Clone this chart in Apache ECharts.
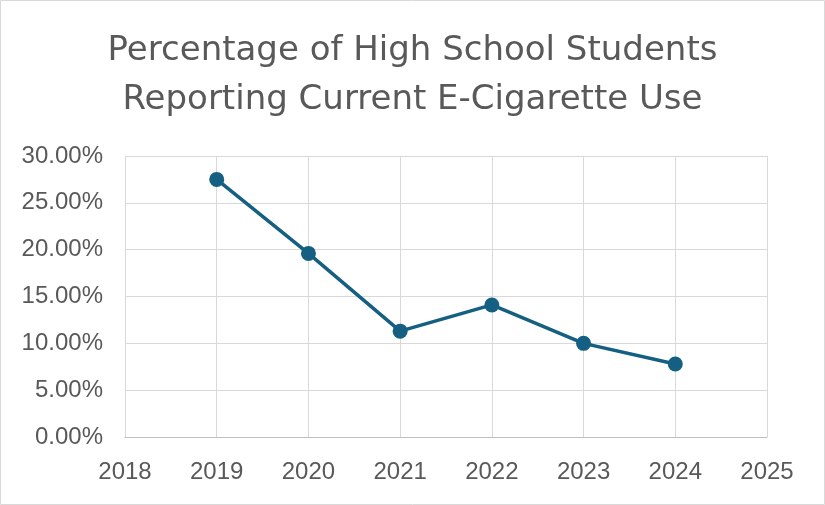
<!DOCTYPE html>
<html>
<head>
<meta charset="utf-8">
<script src="https://cdn.jsdelivr.net/npm/echarts@6/dist/echarts.min.js"></script>
<style>
  html, body { margin: 0; padding: 0; background: #fff; }
  #chart { width: 825px; height: 505px; }
</style>
</head>
<body>
<div id="chart"></div>
<script>
// survey years and share of students (percent)
var years = [2019, 2020, 2021, 2022, 2023, 2024];
var usePct = [27.5, 19.6, 11.3, 14.1, 10.0, 7.8];
var titleText = 'Percentage of High School Students\nReporting Current E-Cigarette Use';

var points = years.map(function (y, i) { return [y, usePct[i]]; });

var myChart = echarts.init(document.getElementById('chart'));
myChart.setOption({
  animation: false,
  backgroundColor: '#fff',
  title: {
    text: titleText,
    left: 'center',
    top: 22,
    textStyle: {
      fontFamily: 'DejaVu Sans, sans-serif',
      fontSize: 34,
      fontWeight: 'normal',
      color: '#595959',
      lineHeight: 49
    }
  },
  graphic: [{
    type: 'rect',
    shape: { x: 0.5, y: 0.5, width: 824, height: 504 },
    style: { fill: 'none', stroke: '#d9d9d9', lineWidth: 1 },
    silent: true
  }],
  grid: { left: 125, right: 58, top: 156, bottom: 68 },
  xAxis: {
    type: 'value',
    min: 2018,
    max: 2025,
    interval: 1,
    axisLine: { show: true, lineStyle: { color: '#bfbfbf' } },
    axisTick: { show: false },
    splitLine: { show: true, lineStyle: { color: '#d9d9d9' } },
    axisLabel: {
      color: '#595959',
      fontSize: 24,
      fontFamily: 'Liberation Sans, Arial, sans-serif',
      margin: 23,
      formatter: function (v) { return String(v); }
    }
  },
  yAxis: {
    type: 'value',
    min: 0,
    max: 30,
    interval: 5,
    axisLine: { show: false },
    axisTick: { show: false },
    splitLine: { show: true, lineStyle: { color: '#d9d9d9' } },
    axisLabel: {
      color: '#595959',
      fontSize: 24,
      fontFamily: 'Liberation Sans, Arial, sans-serif',
      margin: 22,
      formatter: function (v) { return v.toFixed(2) + '%'; }
    }
  },
  series: [{
    type: 'line',
    data: points,
    symbol: 'circle',
    symbolSize: 15,
    lineStyle: { color: '#156082', width: 3.5 },
    itemStyle: { color: '#156082' }
  }]
});
</script>
</body>
</html>
